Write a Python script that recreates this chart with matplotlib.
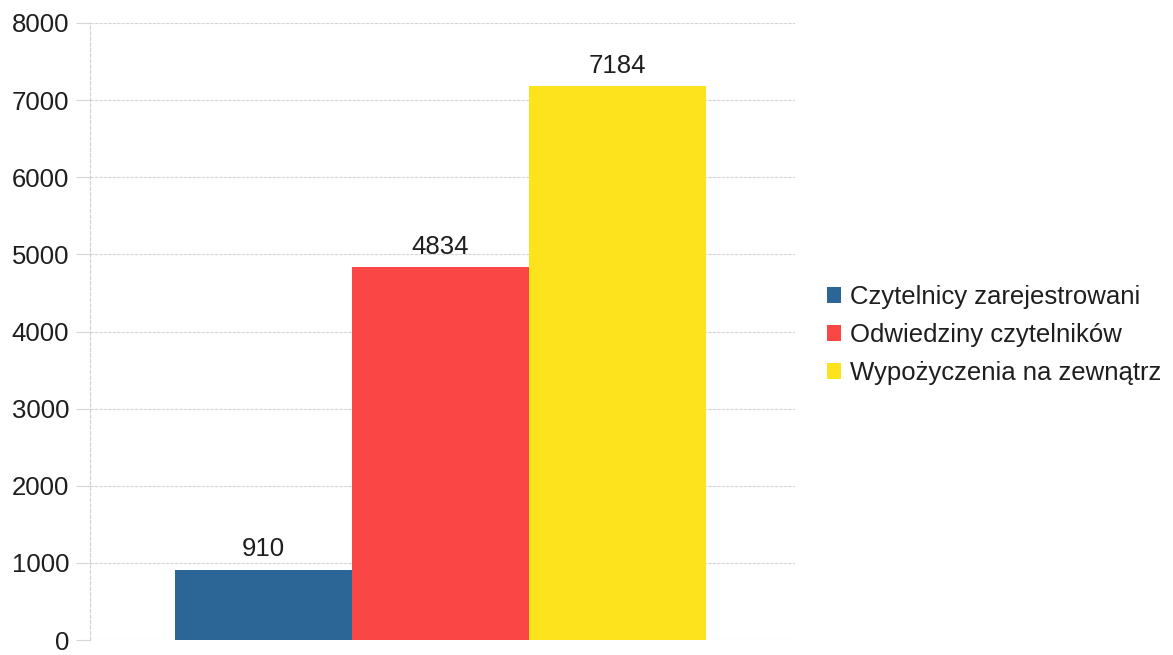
import matplotlib
matplotlib.use("Agg")
import matplotlib.pyplot as plt
from matplotlib.patches import Patch

series = ["Czytelnicy zarejestrowani", "Odwiedziny czytelników", "Wypożyczenia na zewnątrz"]
values = [910, 4834, 7184]
colors = ["#2b6697", "#fa4745", "#fde21e"]
yticks = [0, 1000, 2000, 3000, 4000, 5000, 6000, 7000, 8000]

plt.rcParams['font.family'] = ['Liberation Sans', 'DejaVu Sans']

fig = plt.figure(figsize=(11.73, 6.55), dpi=100)
ax = fig.add_axes([90/1173, 1-640/655, (795-90)/1173, (640-23)/655])

positions = [-1, 0, 1]
ax.bar(positions, values, width=1.0, color=colors, edgecolor='none', zorder=2)
for x, v in zip(positions, values):
    ax.annotate(str(v), (x, v), xytext=(0, 6), textcoords='offset points',
                ha='center', va='bottom', fontsize=18.5, color='#1e1e1e')

ax.set_xlim(-1.5 - 85/177, 1.5 + 89/177)
ax.set_ylim(0, 8000)
ax.set_yticks(yticks)
ax.set_yticklabels([str(t) for t in yticks], fontsize=18.5, color='#1e1e1e')
ax.set_xticks([])
ax.yaxis.grid(True, color='#d6d6d6', linewidth=0.8, linestyle=(0, (3, 1)), zorder=0)
ax.tick_params(axis='y', length=10, color='#d6d6d6', width=0.8, pad=5)
for s in ['top', 'right', 'bottom']:
    ax.spines[s].set_visible(False)
ax.spines['left'].set_color('#d0d0d0')
ax.spines['left'].set_linewidth(0.8)
ax.spines['left'].set_linestyle((0, (3, 2)))

handles = [Patch(facecolor=c, edgecolor='none') for c in colors]
fig.legend(handles, series, loc='upper left', bbox_to_anchor=(827/1173, 1-285/655),
           frameon=False, fontsize=18.5, handlelength=0.55, handleheight=0.55,
           handletextpad=0.35, labelspacing=0.55, borderaxespad=0, borderpad=0,
           labelcolor='#1e1e1e')

fig.savefig("out.png", dpi=100)
